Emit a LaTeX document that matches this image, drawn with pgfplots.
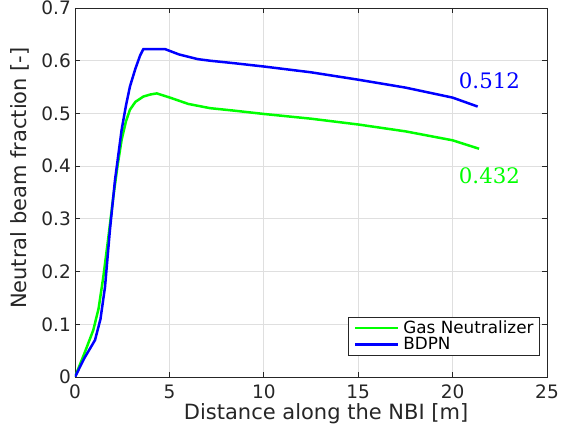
\documentclass[border=0pt]{standalone}
\usepackage{fontspec}
\setmainfont{DejaVu Sans}
\newfontfamily\annfont{DejaVu Serif}
\usepackage{pgfplots}
\pgfplotsset{compat=1.18}
\usetikzlibrary{calc}
\definecolor{axgray}{HTML}{262626}
\definecolor{gridgray}{HTML}{DFDFDF}
\definecolor{gasgreen}{HTML}{00FF00}
\definecolor{bdpnblue}{HTML}{0000FF}

\begin{document}
\begin{tikzpicture}
\begin{axis}[
    scale only axis,
    width=472pt, height=369pt,
    xmin=0, xmax=25, ymin=0, ymax=0.7,
    xtick={0,5,...,25},
    ytick={0,0.1,...,0.7},
    yticklabel style={/pgf/number format/fixed, /pgf/number format/precision=1},
    /pgf/number format/assume math mode=true,
    grid=major,
    major grid style={gridgray, line width=0.8pt},
    axis line style={axgray, line width=0.9pt},
    tick style={axgray, line width=0.8pt},
    tick align=inside,
    major tick length=5pt,
    ticklabel style={font=\fontsize{18.5}{21}\selectfont, text=axgray, inner sep=0pt},
    xticklabel style={anchor=base, yshift=-22pt},
    yticklabel style={anchor=east, xshift=-4pt},
    xlabel={Distance along the NBI [m]},
    ylabel={Neutral beam fraction [-]},
    label style={font=\fontsize{21}{24}\selectfont, text=axgray, inner sep=0pt},
    xlabel style={at={(axis description cs:0.532,0)}, anchor=base, yshift=-43pt},
    ylabel style={at={(axis description cs:-0.1017,0.539)}, anchor=base, rotate=0},
    legend style={at={(0.9837,0.0569)}, anchor=south east,
        font=\fontsize{16.8}{17}\selectfont, draw=axgray, line width=0.6pt,
        inner xsep=5.5pt, inner ysep=3.5pt, row sep=1.5pt, column sep=3.7pt,
        nodes={inner sep=0pt, text height=12.5pt, text depth=2.5pt}},
    legend cell align=left,
    legend image code/.code={\draw[#1, line width=2.6pt] (0pt,0pt) -- (43pt,0pt);},
]

\addplot[gasgreen, line width=2.5pt, mark=none] coordinates {
    (0,0) (0.5,0.045) (0.97,0.089) (1.25,0.13) (1.5,0.19) (1.75,0.26)
    (2.03,0.342) (2.25,0.40) (2.47,0.45) (2.7,0.485) (2.91,0.507)
    (3.2,0.522) (3.62,0.532) (4.0,0.536) (4.33,0.538) (5.03,0.530)
    (6.0,0.518) (7.15,0.510) (8.5,0.505) (10,0.499) (12.5,0.490)
    (15,0.479) (17.5,0.466) (20,0.449) (21.4,0.433)
};
\addlegendentry{Gas Neutralizer}

\addplot[bdpnblue, line width=2.5pt, mark=none] coordinates {
    (0,0) (0.5,0.036) (1.06,0.070) (1.35,0.11) (1.59,0.171) (1.85,0.279)
    (2.12,0.374) (2.47,0.469) (2.7,0.515) (2.91,0.551) (3.2,0.585)
    (3.45,0.610) (3.62,0.622) (4.77,0.622) (5.5,0.612) (6.5,0.603)
    (7.15,0.600) (8.5,0.595) (10,0.589) (12.5,0.578) (15,0.564)
    (17.5,0.549) (20,0.530) (21.33,0.513)
};
\addlegendentry{BDPN}

\node[text=bdpnblue, font=\annfont\fontsize{21.3}{24}\selectfont] at (axis cs:21.95,0.5625) {0.512};
\node[text=gasgreen, font=\annfont\fontsize{21.3}{24}\selectfont] at (axis cs:21.95,0.3817) {0.432};

\end{axis}
\pgfresetboundingbox
\path[use as bounding box] ($(current axis.south west)+(-75pt,-54pt)$) rectangle ($(current axis.north east)+(14pt,8pt)$);
\end{tikzpicture}
\end{document}
